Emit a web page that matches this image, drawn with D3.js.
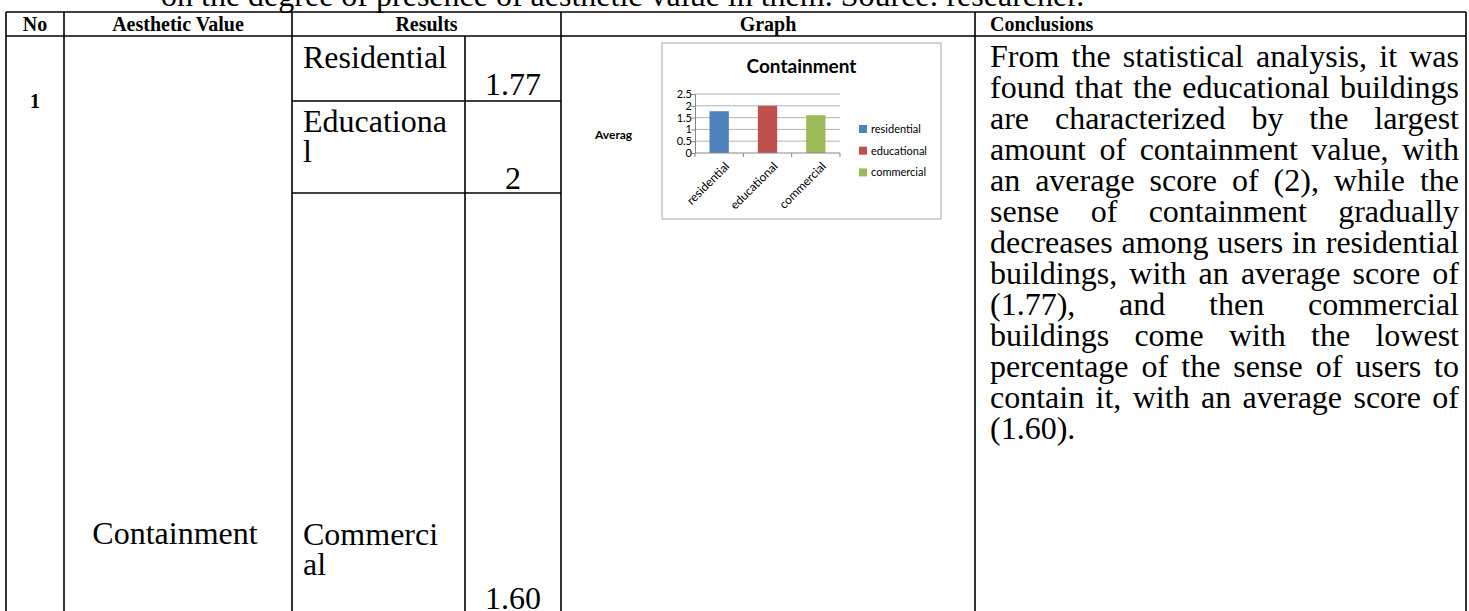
<!DOCTYPE html>
<html>
<head>
<meta charset="utf-8">
<script src="https://cdn.jsdelivr.net/npm/d3@7"></script>
<style>
  html, body { margin: 0; padding: 0; background: #fff; overflow: hidden; }
  svg { display: block; }
  .serif { font-family: "Liberation Serif", "Times New Roman", serif; }
  .sans { font-family: Lato, "Open Sans", sans-serif; }
</style>
</head>
<body>
<svg width="1469" height="611"></svg>
<script>
// data
var categories = ["residential", "educational", "commercial"];
var values = [1.77, 2, 1.60];
var valueLabels = ["1.77", "2", "1.60"];
var rowLabels = [["Residential"], ["Educationa", "l"], ["Commerci", "al"]];
var colors = ["#4F81BD", "#C0504D", "#9BBB59"];
var yTicks = [0, 0.5, 1, 1.5, 2, 2.5];
var headers = ["No", "Aesthetic Value", "Results", "Graph", "Conclusions"];
var caption = "on the degree of presence of aesthetic value in them. Source: researcher.";
var conclusionLines = [
    "From the statistical analysis, it was",
    "found that the educational buildings",
    "are characterized by the largest",
    "amount of containment value, with",
    "an average score of (2), while the",
    "sense of containment gradually",
    "decreases among users in residential",
    "buildings, with an average score of",
    "(1.77), and then commercial",
    "buildings come with the lowest",
    "percentage of the sense of users to",
    "contain it, with an average score of",
    "(1.60)."
];

var svg = d3.select("svg");

// kolommen van de tabel
var col = { left: 6, no: 64, aes: 292, res: 465, val: 561, graph: 975, right: 1466 };
var rowY = { top: 12, head: 36, r1: 101, r2: 193, bottom: 640 };

// caption boven de tabel (half afgesneden)
svg.append("text")
    .attr("class", "serif")
    .attr("x", 161).attr("y", 6)
    .attr("font-size", 32)
    .text(caption);

// tabel lijnen
var lines = svg.append("g").attr("stroke", "#000").attr("stroke-width", 1.6);
[rowY.top, rowY.head].forEach(function (y) {
    lines.append("line").attr("x1", col.left).attr("x2", col.right).attr("y1", y).attr("y2", y);
});
[rowY.r1, rowY.r2].forEach(function (y) {
    lines.append("line").attr("x1", col.aes).attr("x2", col.val).attr("y1", y).attr("y2", y);
});
[col.left, col.no, col.aes, col.val, col.graph, col.right].forEach(function (x) {
    lines.append("line").attr("x1", x).attr("x2", x).attr("y1", rowY.top).attr("y2", rowY.bottom);
});
lines.append("line").attr("x1", col.res).attr("x2", col.res).attr("y1", rowY.head).attr("y2", rowY.bottom);

// header
var headX = [(col.left + col.no) / 2, (col.no + col.aes) / 2, (col.aes + col.val) / 2, (col.val + col.graph) / 2, 990];
svg.append("g").selectAll("text")
    .data(headers)
    .enter().append("text")
    .attr("class", "serif")
    .attr("font-weight", "bold")
    .attr("font-size", 20)
    .attr("x", function (d, i) { return headX[i]; })
    .attr("y", 31)
    .attr("text-anchor", function (d, i) { return i == 4 ? "start" : "middle"; })
    .text(function (d) { return d; });

// rij 1
svg.append("text")
    .attr("class", "serif")
    .attr("font-weight", "bold")
    .attr("font-size", 20)
    .attr("x", (col.left + col.no) / 2).attr("y", 108)
    .attr("text-anchor", "middle")
    .text("1");

svg.append("text")
    .attr("class", "serif")
    .attr("font-size", 32)
    .attr("x", (col.no + col.aes) / 2 - 3).attr("y", 544)
    .attr("text-anchor", "middle")
    .text("Containment");

// labels en waarden in de Results kolom
var labelBase = [68, 132, 545];
var valueBase = [95, 189, 609];
var pitch = 30;

rowLabels.forEach(function (parts, i) {
    parts.forEach(function (p, j) {
        svg.append("text")
            .attr("class", "serif")
            .attr("font-size", 32)
            .attr("x", 303)
            .attr("y", labelBase[i] + j * pitch)
            .text(p);
    });
});

svg.append("g").selectAll("text")
    .data(valueLabels)
    .enter().append("text")
    .attr("class", "serif")
    .attr("font-size", 32)
    .attr("x", (col.res + col.val) / 2)
    .attr("y", function (d, i) { return valueBase[i]; })
    .attr("text-anchor", "middle")
    .text(function (d) { return d; });

// conclusie tekst, uitgevuld
var cx0 = 990, cx1 = 1459, cBase = 67, cPitch = 31;
var conc = svg.append("g").attr("class", "serif").attr("font-size", 32);
var measure = conc.append("text");
conclusionLines.forEach(function (line, i) {
    var words = line.split(" ");
    var widths = words.map(function (w) {
        measure.text(w);
        return measure.node().getComputedTextLength();
    });
    var last = i == conclusionLines.length - 1;
    var total = d3.sum(widths);
    var gap = last ? 8 : (cx1 - cx0 - total) / (words.length - 1);
    var x = cx0;
    words.forEach(function (w, k) {
        conc.append("text").attr("x", x).attr("y", cBase + i * cPitch).text(w);
        x += widths[k] + gap;
    });
});
measure.remove();

// grafiek
var box = { x: 662, y: 43, w: 279, h: 176 };
var chart = svg.append("g").attr("class", "sans");

chart.append("rect")
    .attr("x", box.x).attr("y", box.y)
    .attr("width", box.w).attr("height", box.h)
    .attr("fill", "#fff")
    .attr("stroke", "#a6a6a6");

chart.append("text")
    .attr("x", box.x + box.w / 2).attr("y", 73)
    .attr("text-anchor", "middle")
    .attr("font-weight", "bold")
    .attr("font-size", 19)
    .text("Containment");

chart.append("text")
    .attr("x", 595).attr("y", 139)
    .attr("font-weight", "bold")
    .attr("font-size", 12)
    .text("Averag");

var x = d3.scaleBand().domain(categories).range([695, 840]).paddingInner(0.6).paddingOuter(0.3),
    y = d3.scaleLinear().domain([0, 2.5]).range([153, 94]);

// rasterlijnen
chart.append("g").selectAll("line")
    .data(yTicks.filter(function (d) { return d > 0; }))
    .enter().append("line")
    .attr("x1", 695).attr("x2", 840)
    .attr("y1", function (d) { return y(d); })
    .attr("y2", function (d) { return y(d); })
    .attr("stroke", "#b3b3b3");

var yAxis = chart.append("g")
    .attr("transform", "translate(695,0)")
    .call(d3.axisLeft(y).tickValues(yTicks).tickSize(4).tickSizeOuter(0).tickFormat(function (d) { return d; }));
yAxis.select(".domain").attr("stroke", "#868686");
yAxis.selectAll(".tick line").attr("stroke", "#868686");
yAxis.selectAll(".tick text")
    .attr("x", -3)
    .attr("font-family", "Lato, sans-serif")
    .attr("font-size", 11)
    .attr("fill", "#000");

chart.selectAll(".bar")
    .data(values)
    .enter().append("rect")
    .attr("class", "bar")
    .attr("x", function (d, i) { return x(categories[i]); })
    .attr("y", function (d) { return y(d); })
    .attr("width", x.bandwidth())
    .attr("height", function (d) { return y(0) - y(d); })
    .attr("fill", function (d, i) { return colors[i]; });

// x as met streepjes tussen de categorieen
chart.append("line")
    .attr("x1", 695).attr("x2", 840)
    .attr("y1", y(0)).attr("y2", y(0))
    .attr("stroke", "#868686");
var bounds = categories.map(function (c) { return x(c) - x.step() * 0.3; }).concat([840]);
chart.append("g").selectAll("line")
    .data(bounds)
    .enter().append("line")
    .attr("x1", function (d) { return d; }).attr("x2", function (d) { return d; })
    .attr("y1", y(0)).attr("y2", y(0) + 4)
    .attr("stroke", "#868686");

chart.append("g").selectAll("text")
    .data(categories)
    .enter().append("text")
    .attr("transform", function (d) {
        return "translate(" + (x(d) + x.bandwidth() / 2 + 5) + "," + (y(0) + 8) + ") rotate(-45)";
    })
    .attr("text-anchor", "end")
    .attr("dy", "0.7em")
    .attr("font-size", 12)
    .text(function (d) { return d; });

// legenda
var legend = chart.append("g").selectAll("g")
    .data(categories)
    .enter().append("g")
    .attr("transform", function (d, i) { return "translate(859," + (129 + i * 21.7) + ")"; });
legend.append("rect")
    .attr("x", 0).attr("y", -4)
    .attr("width", 8).attr("height", 8)
    .attr("fill", function (d, i) { return colors[i]; });
legend.append("text")
    .attr("x", 12).attr("y", 4)
    .attr("font-size", 11)
    .text(function (d) { return d; });
</script>
</body>
</html>
